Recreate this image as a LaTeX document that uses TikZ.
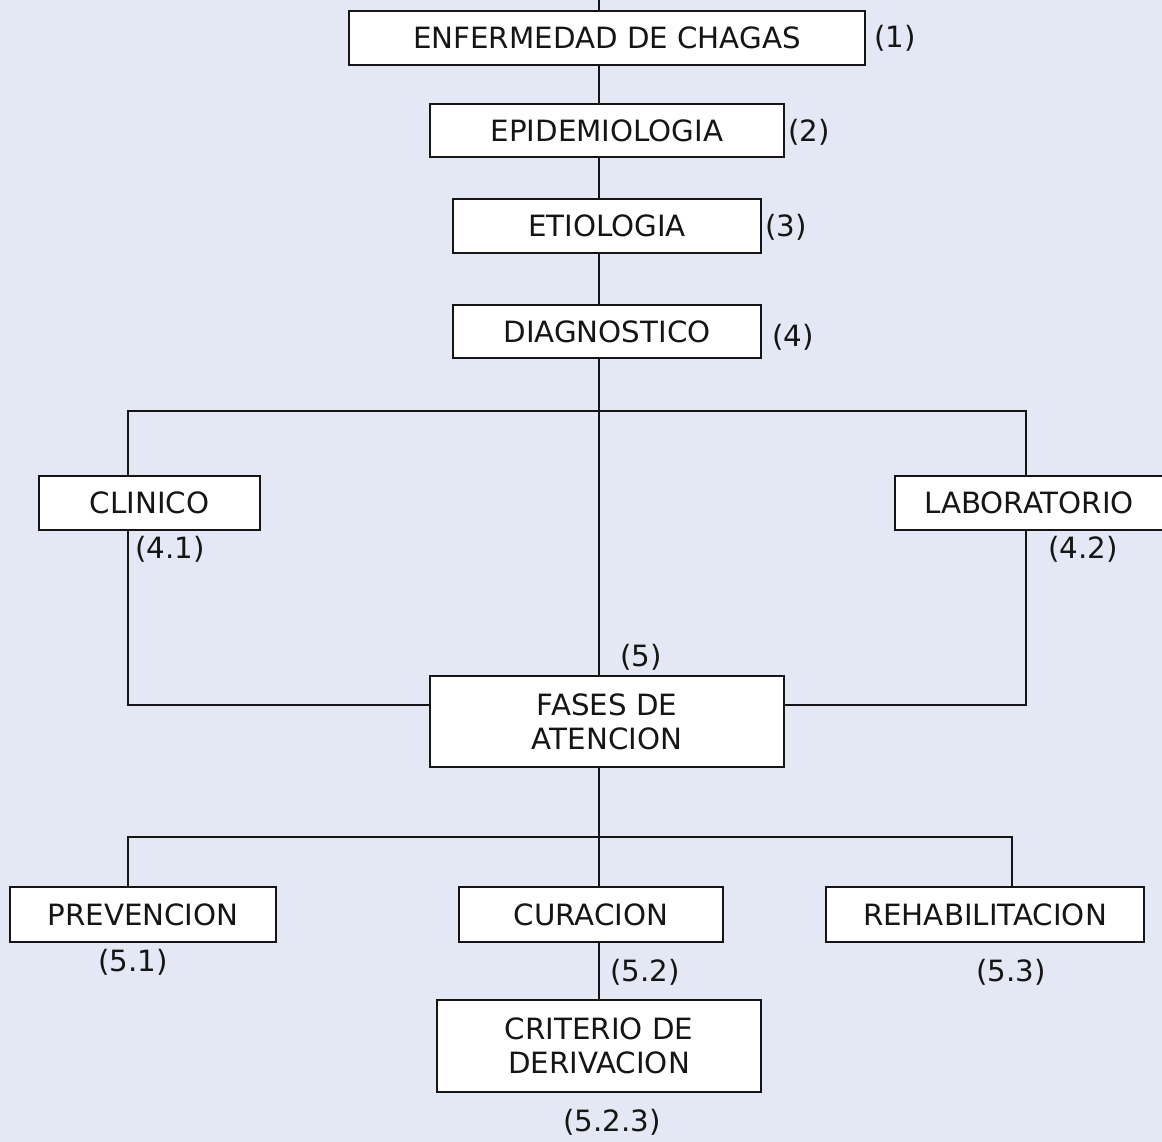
\documentclass[tikz,border=0pt]{standalone}
\usepackage{fontspec}
\setmainfont{DejaVu Sans}
\definecolor{bgcol}{HTML}{E4E8F4}
\definecolor{inkcol}{HTML}{151515}
\begin{document}
\begin{tikzpicture}[x=1pt,y=-1pt,
  box/.style={draw=inkcol,fill=white,line width=1.7pt,inner sep=0pt,
    align=center,text=inkcol,font=\fontsize{29.3}{34}\selectfont},
  tag/.style={inner sep=0pt,text=inkcol,font=\fontsize{29.3}{34}\selectfont},
  link/.style={draw=inkcol,line width=1.7pt}]
\fill[bgcol] (0,0) rectangle (1162,1142);
\useasboundingbox (0,0) rectangle (1162,1142);

% main column
\node[box,minimum width=516pt,minimum height=54pt] (chagas) at (607,38) {ENFERMEDAD DE CHAGAS};
\node[box,minimum width=354pt,minimum height=53pt] (epid) at (607,130.5) {EPIDEMIOLOGIA};
\node[box,minimum width=308pt,minimum height=54pt] (etio) at (607,226) {ETIOLOGIA};
\node[box,minimum width=308pt,minimum height=53pt] (diag) at (607,331.5) {DIAGNOSTICO};
\node[box,minimum width=221pt,minimum height=54pt] (clin) at (149.5,503) {CLINICO};
\node[box,minimum width=268pt,minimum height=54pt] (lab) at (1029,503) {LABORATORIO};
\node[box,minimum width=354pt,minimum height=91pt] (fases) at (607,721.5) {FASES DE\\ATENCION};
\node[box,minimum width=266pt,minimum height=55pt] (prev) at (143,914.5) {PREVENCION};
\node[box,minimum width=264pt,minimum height=55pt] (cur) at (591,914.5) {CURACION};
\node[box,minimum width=318pt,minimum height=55pt] (rehab) at (985,914.5) {REHABILITACION};
\node[box,minimum width=324pt,minimum height=92pt] (crit) at (599,1046) {CRITERIO DE\\DERIVACION};

% numbering
\node[tag] (t1) at (895,38) {(1)};
\node[tag] (t2) at (809,132) {(2)};
\node[tag] (t3) at (786,227) {(3)};
\node[tag] (t4) at (793,337) {(4)};
\node[tag] (t41) at (170,549) {(4.1)};
\node[tag] (t42) at (1083,549) {(4.2)};
\node[tag] (t5) at (641,657) {(5)};
\node[tag] (t51) at (133,962) {(5.1)};
\node[tag] (t52) at (645,972) {(5.2)};
\node[tag] (t53) at (1011,972) {(5.3)};
\node[tag] (t523) at (612,1122) {(5.2.3)};

% guide coordinates for the connectors
\coordinate (spine) at (599,0);
\coordinate (barL) at (128,411);
\coordinate (barR) at (1026,411);
\coordinate (joinL) at (128,705);
\coordinate (joinR) at (1026,705);
\coordinate (lowL) at (128,837);
\coordinate (lowR) at (1012,837);

% connectors
\draw[link] (spine) -- (chagas.north -| spine);
\draw[link] (chagas.south -| spine) -- (epid.north -| spine);
\draw[link] (epid.south -| spine) -- (etio.north -| spine);
\draw[link] (etio.south -| spine) -- (diag.north -| spine);
\draw[link] (diag.south -| spine) -- (fases.north -| spine);
\draw[link] (clin.north -| barL) -- (barL) -- (barR) -- (lab.north -| barR);
\draw[link] (clin.south -| joinL) -- (joinL) -- (fases.west |- joinL);
\draw[link] (lab.south -| joinR) -- (joinR) -- (fases.east |- joinR);
\draw[link] (fases.south -| spine) -- (cur.north -| spine);
\draw[link] (prev.north -| lowL) -- (lowL) -- (lowR) -- (rehab.north -| lowR);
\draw[link] (cur.south -| spine) -- (crit.north -| spine);
\end{tikzpicture}
\end{document}
